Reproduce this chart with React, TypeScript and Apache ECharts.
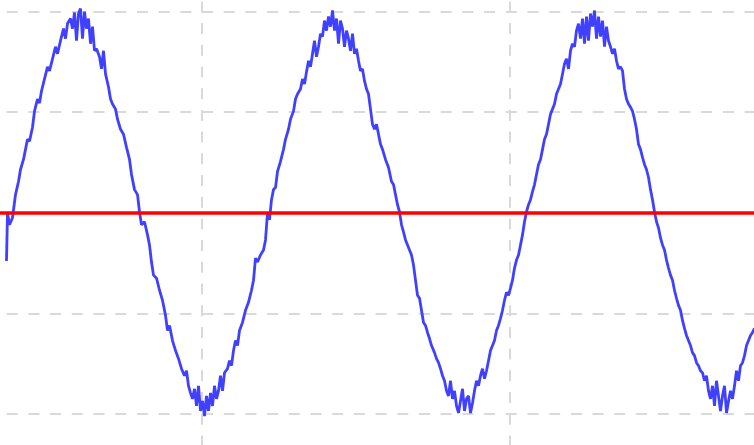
import React, { useEffect, useRef } from "react";
import * as echarts from "echarts";

// Sample index (x) and signal value in mV (y).
const samples: [number, number][] = [
  [113, -48], [114, 0], [116, -12], [119, -5], [122, 18], [125, 31], [127, 43], [130, 53], [132, 63], [134, 73],
  [136, 71], [139, 85], [141, 101], [144, 113], [146, 109], [148, 121], [151, 133], [154, 145], [156, 141], [159, 153],
  [162, 165], [164, 158], [167, 171], [170, 183], [172, 173], [174, 188], [177, 193], [179, 183], [181, 199], [183, 171],
  [185, 198], [187, 203], [189, 173], [191, 200], [193, 183], [195, 193], [197, 168], [199, 185], [201, 161], [203, 163],
  [206, 155], [208, 143], [210, 161], [212, 138], [215, 125], [217, 113], [219, 108], [222, 103], [224, 93], [227, 83],
  [230, 78], [233, 65], [236, 53], [238, 38], [241, 23], [244, 18], [246, 1], [248, -12], [251, -9], [254, -22],
  [256, -32], [258, -49], [260, -62], [263, -65], [266, -77], [269, -87], [272, -102], [274, -117], [276, -112], [279, -127],
  [282, -137], [285, -145], [288, -155], [291, -162], [293, -157], [295, -172], [297, -179], [299, -185], [301, -175], [303, -192],
  [305, -172], [307, -197], [309, -187], [311, -202], [313, -182], [315, -197], [317, -179], [319, -192], [321, -172], [323, -185],
  [325, -177], [327, -162], [329, -177], [331, -159], [334, -155], [336, -147], [338, -152], [340, -137], [342, -127], [344, -132],
  [346, -117], [349, -109], [352, -97], [355, -89], [358, -77], [360, -67], [362, -45], [364, -49], [367, -42], [370, -37],
  [372, -27], [374, 0], [376, -7], [378, 13], [380, 23], [382, 25], [384, 41], [387, 51], [390, 63], [392, 73],
  [395, 83], [397, 93], [400, 101], [402, 113], [404, 118], [407, 123], [409, 133], [411, 128], [413, 140], [415, 151],
  [417, 145], [419, 158], [421, 171], [423, 155], [425, 165], [427, 178], [429, 175], [431, 191], [433, 181], [435, 195],
  [437, 185], [439, 201], [441, 181], [443, 193], [445, 168], [447, 191], [449, 183], [451, 165], [453, 181], [455, 173],
  [457, 161], [459, 178], [461, 158], [463, 163], [465, 151], [467, 141], [469, 143], [471, 131], [473, 123], [475, 118],
  [477, 103], [479, 88], [481, 83], [483, 88], [485, 78], [487, 68], [489, 63], [492, 53], [495, 45], [498, 31],
  [500, 28], [502, 18], [504, 8], [506, 1], [508, -12], [510, -19], [512, -27], [514, -32], [516, -37], [518, -42],
  [520, -52], [522, -67], [524, -82], [526, -85], [528, -97], [530, -109], [532, -112], [534, -119], [536, -125], [538, -132],
  [541, -139], [543, -145], [545, -149], [547, -155], [549, -162], [551, -167], [553, -177], [555, -182], [557, -167], [559, -185],
  [561, -177], [563, -192], [565, -199], [567, -187], [569, -175], [571, -197], [573, -185], [575, -182], [577, -199], [579, -189],
  [581, -177], [583, -167], [585, -172], [587, -162], [589, -155], [591, -165], [593, -157], [595, -147], [597, -137], [599, -132],
  [601, -127], [603, -117], [605, -112], [607, -105], [609, -97], [611, -87], [613, -79], [615, -82], [617, -75], [619, -67],
  [621, -55], [623, -47], [625, -42], [627, -32], [629, -22], [631, -9], [633, 1], [635, 8], [637, 13], [639, 21],
  [641, 28], [643, 38], [645, 48], [647, 53], [649, 63], [651, 73], [653, 78], [655, 88], [657, 98], [659, 103],
  [661, 108], [663, 118], [665, 123], [667, 128], [669, 138], [671, 148], [673, 153], [675, 143], [677, 161], [679, 168],
  [681, 165], [683, 181], [685, 188], [687, 173], [689, 193], [691, 168], [693, 195], [695, 171], [697, 198], [699, 185],
  [701, 201], [703, 173], [705, 195], [707, 175], [709, 191], [711, 165], [713, 185], [715, 171], [717, 165], [719, 158],
  [721, 163], [723, 151], [725, 143], [727, 145], [729, 141], [731, 123], [733, 113], [735, 108], [737, 105], [739, 101],
  [741, 93], [743, 83], [745, 68], [747, 63], [749, 55], [751, 48], [753, 43], [755, 35], [757, 23], [759, 13],
  [761, 1], [763, -9], [765, -15], [767, -25], [769, -32], [771, -37], [773, -47], [775, -55], [777, -62], [779, -67],
  [781, -77], [783, -85], [785, -92], [787, -97], [789, -107], [791, -115], [793, -122], [795, -127], [797, -132], [799, -139],
  [801, -142], [803, -149], [805, -152], [807, -157], [809, -159], [811, -167], [813, -162], [815, -177], [817, -185], [819, -172],
  [821, -192], [823, -167], [825, -182], [827, -197], [829, -182], [831, -172], [833, -199], [835, -187], [837, -177], [839, -185],
  [841, -172], [843, -157], [845, -167], [847, -152], [849, -149], [851, -142], [853, -132], [855, -127], [857, -122], [859, -119],
  [861, -115],
];

const zeroLevel = [0];

const xMin = 0;
const xMax = 924;
const xInterval = 308;
const yMin = -300;
const yMax = 300;
const yInterval = 100;

export default function App() {
  const ref = useRef<HTMLDivElement>(null);

  useEffect(() => {
    if (!ref.current) return;
    const chart = echarts.init(ref.current, null, { renderer: "svg" });
    const gridLine = { color: "#d9d9d9", width: 2, type: [11, 10.7] as number[] };
    chart.setOption({
      animation: false,
      backgroundColor: "#ffffff",
      grid: { left: 0.5, right: 0.5, top: 0.9, bottom: 1.4, containLabel: false },
      xAxis: {
        type: "value",
        min: xMin,
        max: xMax,
        interval: xInterval,
        axisLine: { show: false },
        axisTick: { show: false },
        axisLabel: { show: false },
        splitLine: { show: true, lineStyle: { ...gridLine, dashOffset: 17.7 } },
      },
      yAxis: {
        type: "value",
        min: yMin,
        max: yMax,
        interval: yInterval,
        axisLine: { show: false },
        axisTick: { show: false },
        axisLabel: { show: false },
        splitLine: { show: true, lineStyle: { ...gridLine, dashOffset: 16.7 } },
      },
      series: [
        {
          type: "line",
          data: [],
          z: 1,
          markLine: {
            silent: true,
            symbol: "none",
            label: { show: false },
            lineStyle: { color: "#ff0000", width: 3.5, type: "solid" },
            data: zeroLevel.map((v) => ({ yAxis: v })),
          },
        },
        {
          type: "line",
          data: samples,
          showSymbol: false,
          z: 3,
          lineStyle: { color: "#4040ff", width: 2.8 },
          itemStyle: { color: "#4040ff" },
        },
      ],
    });
    return () => chart.dispose();
  }, []);

  return (
    <div
      style={{
        position: "absolute",
        left: 0,
        top: 0,
        width: 754,
        height: 445,
        overflow: "hidden",
        background: "#ffffff",
      }}
    >
      <div ref={ref} style={{ position: "absolute", left: -107, top: -90, width: 925, height: 606 }} />
    </div>
  );
}
